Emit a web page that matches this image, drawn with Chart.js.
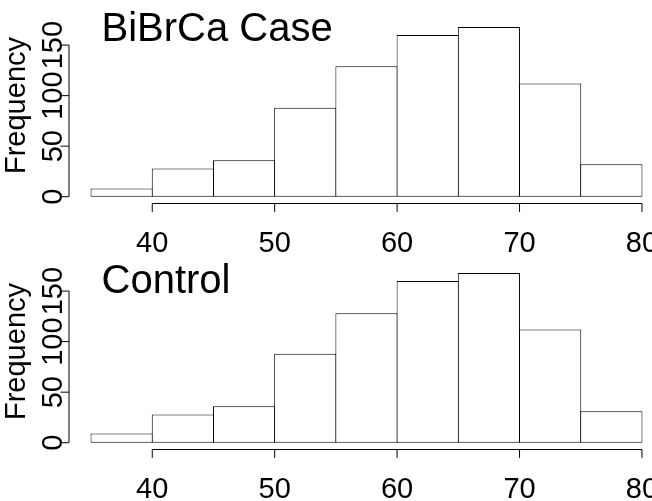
<!DOCTYPE html>
<html>
<head>
<meta charset="utf-8">
<script src="https://cdn.jsdelivr.net/npm/chart.js@4.4.0/dist/chart.umd.min.js"></script>
<style>
  html, body { margin: 0; padding: 0; background: #fff; }
  body { width: 652px; height: 501px; overflow: hidden; position: relative; }
  canvas { position: absolute; left: 0; }
  #caseChart { top: 0; }
  #controlChart { top: 246px; }
</style>
</head>
<body>
<canvas id="caseChart" width="700" height="262"></canvas>
<canvas id="controlChart" width="700" height="256"></canvas>
<script>
// Histogram breaks (age) - same for both panels
const binEdges = [35, 40, 45, 50, 55, 60, 65, 70, 75, 80];
// Counts per bin
const caseCounts = [8, 28, 36, 88, 129, 160, 168, 112, 32];
const controlCounts = [9, 28, 36, 88, 128, 160, 168, 112, 31];
// Axis tick labels
const xTicks = [40, 50, 60, 70, 80];
const yTicks = [0, 50, 100, 150];

const FONT = '"Liberation Sans", Arial, Helvetica, sans-serif';

// R-style axes, labels and title drawn from the chart's own scales
function rAxes(title, titleY) {
    return {
        id: 'rAxes',
        afterDraw(chart) {
            const c = chart.ctx;
            const x = chart.scales.x;
            const y = chart.scales.y;
            const area = chart.chartArea;
            c.save();
            c.strokeStyle = '#000';
            c.fillStyle = '#000';
            c.lineWidth = 1;

            // x axis: line from first to last tick, ticks pointing down
            const ax = area.bottom;
            c.beginPath();
            c.moveTo(x.getPixelForValue(xTicks[0]), ax);
            c.lineTo(x.getPixelForValue(xTicks[xTicks.length - 1]), ax);
            xTicks.forEach(t => {
                const px = x.getPixelForValue(t);
                c.moveTo(px, ax);
                c.lineTo(px, ax + 8.4);
            });
            // y axis on the left edge of the plot region
            const ay = area.left;
            c.moveTo(ay, y.getPixelForValue(yTicks[0]));
            c.lineTo(ay, y.getPixelForValue(yTicks[yTicks.length - 1]));
            yTicks.forEach(t => {
                const py = y.getPixelForValue(t);
                c.moveTo(ay, py);
                c.lineTo(ay - 8.4, py);
            });
            c.stroke();

            c.font = '29px ' + FONT;
            c.textAlign = 'center';
            c.textBaseline = 'alphabetic';
            xTicks.forEach(t => c.fillText(String(t), x.getPixelForValue(t), ax + 48.5));
            // y tick labels are rotated, like R's default las = 0
            yTicks.forEach(t => {
                c.save();
                c.translate(ay - 7.5, y.getPixelForValue(t));
                c.rotate(-Math.PI / 2);
                c.fillText(String(t), 0, 0);
                c.restore();
            });
            c.save();
            c.translate(ay - 44, (area.top + area.bottom) / 2 - 6.3);
            c.rotate(-Math.PI / 2);
            c.fillText('Frequency', 0, 0);
            c.restore();

            // panel title
            c.font = '40px ' + FONT;
            c.textAlign = 'left';
            c.fillText(title, 101.5, titleY);
            c.restore();
        }
    };
}

function drawPanel(id, counts, title, titleY) {
    const canvas = document.getElementById(id);
    // R extends the axis ranges by 4% on each side
    const xSpan = binEdges[binEdges.length - 1] - binEdges[0];
    const yTop = Math.max(...counts);
    return new Chart(canvas, {
        type: 'bar',
        data: {
            datasets: [{
                data: counts.map((n, i) => ({ x: (binEdges[i] + binEdges[i + 1]) / 2, y: n })),
                backgroundColor: '#ffffff',
                borderColor: '#000000',
                borderWidth: 1,
                borderSkipped: false,
                // bars 1px wider than the bin so neighbouring outlines sit on top of each other
                barPercentage: 1.0164,
                categoryPercentage: 1
            }]
        },
        options: {
            responsive: false,
            animation: false,
            devicePixelRatio: 1,
            layout: {
                padding: { left: 69, right: canvas.width - 664, top: 20.1, bottom: canvas.height - 203.5 }
            },
            plugins: {
                legend: { display: false },
                title: { display: false },
                tooltip: { enabled: false }
            },
            scales: {
                x: {
                    type: 'linear',
                    display: false,
                    offset: false,
                    min: binEdges[0] - 0.04 * xSpan,
                    max: binEdges[binEdges.length - 1] + 0.04 * xSpan
                },
                y: {
                    type: 'linear',
                    display: false,
                    min: -0.04 * yTop,
                    max: yTop * 1.04
                }
            }
        },
        plugins: [rAxes(title, titleY)]
    });
}

drawPanel('caseChart', caseCounts, 'BiBrCa Case', 40.7);
drawPanel('controlChart', controlCounts, 'Control', 46.5);
</script>
</body>
</html>
